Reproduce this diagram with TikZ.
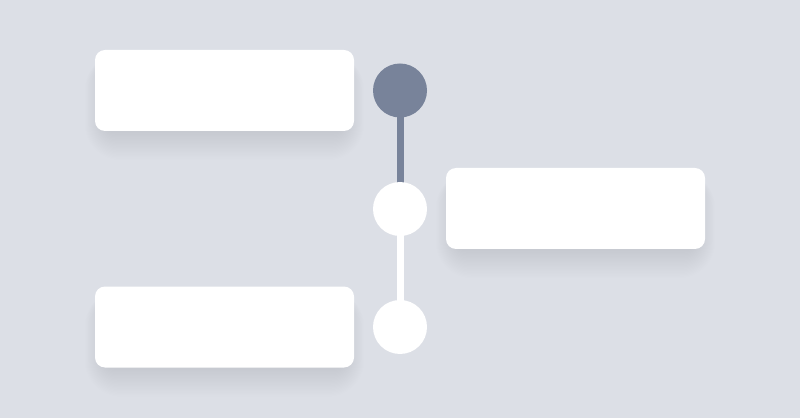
\documentclass[tikz,border=0pt]{standalone}
\definecolor{bg}{HTML}{DCDFE6}
\definecolor{dot}{HTML}{78839A}
\definecolor{shadowc}{HTML}{55565E}
\pgfdeclarelayer{bottom}
\pgfdeclarelayer{background}
\pgfsetlayers{bottom,background,main}
\tikzset{
  card/.style={fill=white, rounded corners=10pt, minimum width=259pt, minimum height=81pt, inner sep=0pt},
  dotfill/.style={circle, fill=dot, minimum size=54pt, inner sep=0pt},
  dotwhite/.style={circle, fill=white, minimum size=54pt, inner sep=0pt},
  darkline/.style={draw=dot, line width=7pt},
  whiteline/.style={draw=white, line width=7pt},
  shadowlayer/.style={fill=shadowc, fill opacity=0.005}
}
\newcommand{\cardshadow}[1]{%
  \begin{pgfonlayer}{background}
    \foreach \e in {0,1.5,...,30} {
      \fill[shadowlayer, rounded corners={12pt+0.8*\e pt}]
        ([xshift={8pt-0.6*\e pt}, yshift={-2pt-0.9*\e pt}]#1.south west) rectangle
        ([xshift={-8pt+0.6*\e pt}, yshift={-10pt+0.2*\e pt}]#1.north east);
    }
  \end{pgfonlayer}}
\begin{document}
\begin{tikzpicture}[x=1pt,y=1pt]
  \begin{pgfonlayer}{bottom}
    \fill[bg] (0,0) rectangle (800,418);
  \end{pgfonlayer}
  \useasboundingbox (0,0) rectangle (800,418);
  \node[card] (b1) at (224.5,327.5) {};
  \node[card] (b2) at (575.5,209.5) {};
  \node[card] (b3) at (224.5,91) {};
  \cardshadow{b1}
  \cardshadow{b2}
  \cardshadow{b3}
  \coordinate (p1) at (400,327.5);
  \coordinate (p2) at (400,209);
  \coordinate (p3) at (400,91);
  \draw[darkline] (p1) -- (p2);
  \draw[whiteline] (p2) -- (p3);
  \node[dotfill] (c1) at (p1) {};
  \node[dotwhite] (c2) at (p2) {};
  \node[dotwhite] (c3) at (p3) {};
\end{tikzpicture}
\end{document}
